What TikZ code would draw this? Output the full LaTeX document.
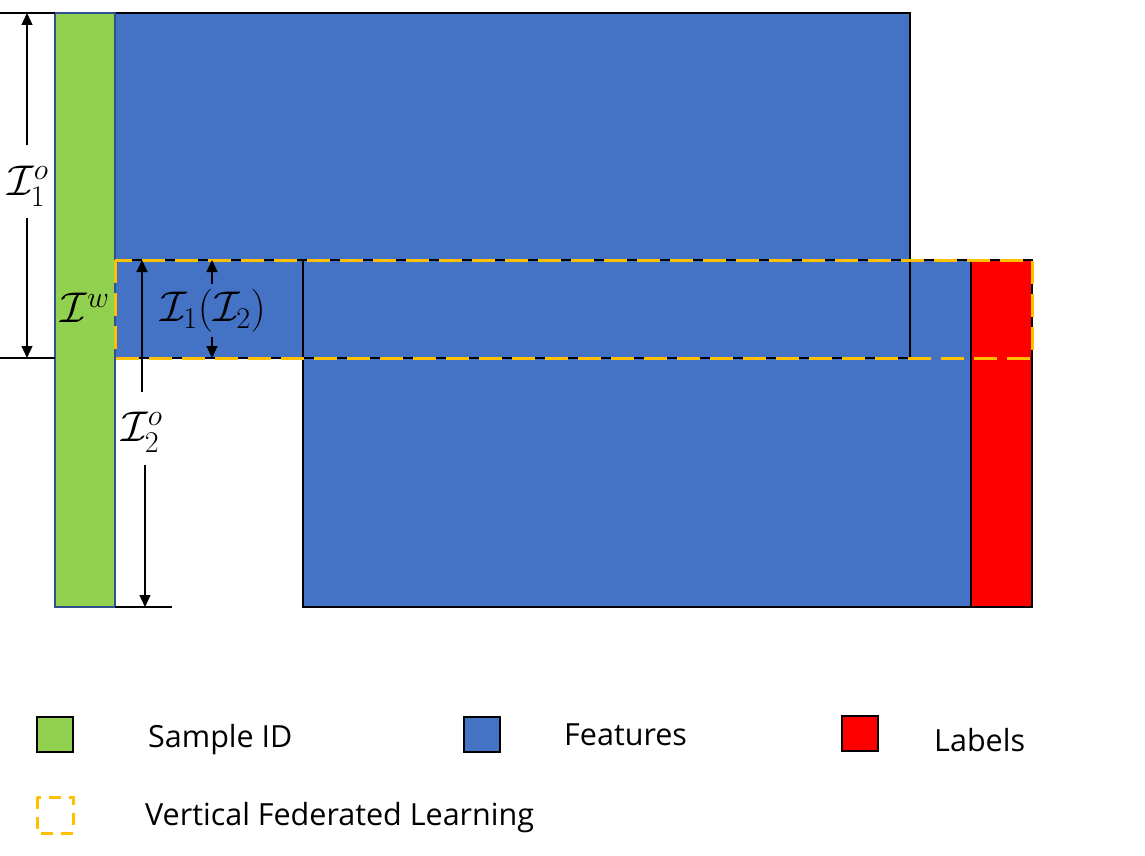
\RequirePackage{fix-cm}
\documentclass[tikz,border=0pt]{standalone}
\usepackage{fontspec}
\setmainfont{Open Sans}
\usetikzlibrary{arrows.meta}
\definecolor{fblue}{HTML}{4472C4}
\definecolor{sgreen}{HTML}{92D050}
\definecolor{lred}{HTML}{FF0000}
\definecolor{vfl}{HTML}{FFC000}
\definecolor{gedge}{HTML}{2F528F}
\begin{document}
\begin{tikzpicture}[x=1pt,y=-1pt,
  blk/.style={draw=black,line width=2pt,inner sep=0pt,outer sep=0pt,anchor=north west},
  dim/.style={line width=1.2pt,-{Triangle[length=12pt,width=11pt]}},
  tick/.style={line width=1.2pt},
  lab/.style={font=\fontsize{43}{47}\selectfont,inner sep=0pt},
  legbox/.style={draw=black,line width=2pt,minimum width=36pt,minimum height=35pt,inner sep=0pt},
  legtxt/.style={font=\fontsize{30.5}{34}\selectfont,anchor=west,inner sep=0pt},
  vflstyle/.style={draw=vfl,line width=3pt,dash pattern=on 23pt off 10pt}]
\useasboundingbox (0,0) rectangle (1145,856);
% fills
\node[blk,fill=fblue,draw=none,minimum width=795pt,minimum height=345pt] (top) at (115,13) {};
\node[blk,fill=fblue,draw=none,minimum width=668pt,minimum height=347pt] (bot) at (303,260) {};
\node[blk,fill=lred,minimum width=61pt,minimum height=347pt] (lab) at (971,260) {};
% borders
\draw[line width=2pt] (top.south west) -- (top.north west) -- (top.north east) -- (top.south east) -- (top.south west);
\draw[line width=2pt] (bot.north west) rectangle (bot.south east);
\draw[line width=2pt] (lab.north west) rectangle (lab.south east);
% sample id bar
\node[blk,fill=sgreen,draw=gedge,line width=1.5pt,minimum width=60pt,minimum height=594pt] (sid) at (55,13) {};
% reference lines
\coordinate (t1a) at (0,13); \coordinate (t1b) at (55,13);
\coordinate (t2a) at (0,358); \coordinate (t2b) at (55,358);
\coordinate (t3a) at (115,260); \coordinate (t3b) at (303,260);
\coordinate (t4a) at (115,607); \coordinate (t4b) at (172,607);
\draw[tick] (t1a) -- (t1b);
\draw[tick] (t2a) -- (t2b);
\draw[tick] (t3a) -- (t3b);
\draw[tick] (t4a) -- (t4b);
% VFL dashed box
\draw[vflstyle] (115,260) rectangle (1032,358);
% I1^o
\node[lab] (i1o) at (28,186) {$\mathcal{I}_1^o$};
\coordinate (a1) at (27,13); \coordinate (a2) at (27,358);
\draw[dim] (27,145) -- (a1);
\draw[dim] (27,218) -- (a2);
% I^w
\node[lab] (iw) at (85,308) {$\mathcal{I}^w$};
% I1(I2)
\node[lab] (i12) at (213,311) {$\mathcal{I}_1(\mathcal{I}_2)$};
\coordinate (b1) at (212,260); \coordinate (b2) at (212,358);
\draw[dim] (212,284) -- (b1);
\draw[dim] (212,337) -- (b2);
% I2^o
\node[lab] (i2o) at (142,432) {$\mathcal{I}_2^o$};
\coordinate (c1) at (142,260); \coordinate (c2) at (145,607);
\draw[dim] (142,392) -- (c1);
\draw[dim] (145,465) -- (c2);
% legend
\node[legbox,fill=sgreen] (lg1) at (55,734.5) {};
\node[legtxt] (lt1) at (148,740) {Sample ID};
\node[legbox,fill=fblue] (lg2) at (482,734.5) {};
\node[legtxt] (lt2) at (564,735) {Features};
\node[legbox,fill=lred] (lg3) at (860,733.5) {};
\node[legtxt] (lt3) at (934,740) {Labels};
\draw[draw=vfl,line width=3pt,dash pattern=on 12pt off 8pt] (37,797) rectangle (73,833);
\node[legtxt] (lt4) at (145,818) {Vertical Federated Learning};
\end{tikzpicture}
\end{document}
